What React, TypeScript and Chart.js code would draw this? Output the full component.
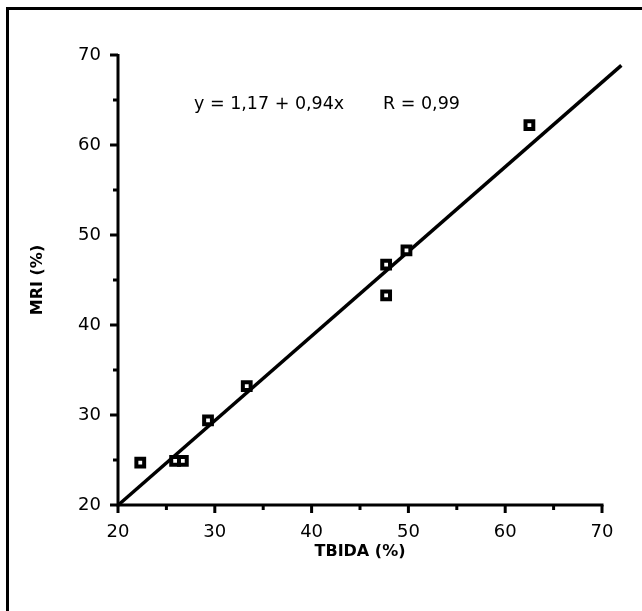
import React, { useEffect, useRef } from "react";
import { Chart, registerables } from "chart.js";

Chart.register(...registerables);

const tbida = [22.3, 25.9, 26.7, 29.3, 33.3, 47.7, 47.7, 49.8, 62.5];
const mri = [24.7, 24.9, 24.9, 29.4, 33.2, 46.7, 43.3, 48.3, 62.2];
const fitX = [20, 72];
const fitY = [19.97, 68.85];
const equationText = "y = 1,17 + 0,94x";
const rText = "R = 0,99";
const xTitle = "TBIDA (%)";
const yTitle = "MRI (%)";
const axisMin = 20;
const axisMax = 70;
const majorStep = 10;
const minorStep = 5;

const FONT = "'DejaVu Sans', sans-serif";

const axesPlugin = {
  id: "axesPlugin",
  afterDraw(chart: any) {
    const ctx = chart.ctx;
    const xs = chart.scales.x;
    const ys = chart.scales.y;
    const { left, right, top, bottom } = chart.chartArea;
    ctx.save();
    ctx.strokeStyle = "#000";
    ctx.lineWidth = 3;
    ctx.lineCap = "butt";
    ctx.beginPath();
    ctx.moveTo(left, top - 1);
    ctx.lineTo(left, bottom + 1.5);
    ctx.moveTo(left - 1.5, bottom);
    ctx.lineTo(right + 1.5, bottom);
    ctx.stroke();
    for (let v = axisMin; v <= axisMax; v += minorStep) {
      const major = v % majorStep === 0;
      const len = major ? 8 : 5;
      const px = xs.getPixelForValue(v);
      ctx.beginPath();
      ctx.moveTo(px, bottom);
      ctx.lineTo(px, bottom + len);
      ctx.stroke();
      const py = ys.getPixelForValue(v);
      ctx.beginPath();
      ctx.moveTo(left, py);
      ctx.lineTo(left - len, py);
      ctx.stroke();
    }
    ctx.fillStyle = "#000";
    ctx.font = `17.5px ${FONT}`;
    ctx.textAlign = "left";
    ctx.textBaseline = "middle";
    ctx.fillText(equationText, left + 76, top + 49);
    ctx.fillText(rText, left + 265, top + 49);
    ctx.restore();
  },
};

export default function App() {
  const ref = useRef<HTMLCanvasElement>(null);
  useEffect(() => {
    if (!ref.current) return;
    const chart = new Chart(ref.current, {
      type: "scatter",
      data: {
        datasets: [
          {
            type: "line",
            data: fitX.map((x, i) => ({ x, y: fitY[i] })),
            borderColor: "#000",
            borderWidth: 3.5,
            pointRadius: 0,
            clip: false as any,
            order: 2,
          },
          {
            data: tbida.map((x, i) => ({ x, y: mri[i] })),
            pointStyle: "rect",
            pointRadius: 5.5,
            borderWidth: 4,
            borderColor: "#000",
            backgroundColor: "#fff",
            order: 1,
          },
        ],
      },
      options: {
        responsive: false,
        animation: false,
        layout: { padding: { top: 55, right: 40, left: 0, bottom: 50 } },
        plugins: { legend: { display: false }, tooltip: { enabled: false } },
        scales: {
          x: {
            type: "linear",
            min: axisMin,
            max: axisMax,
            afterFit: (s: any) => {
              s.height = 56;
            },
            grid: { display: false, drawTicks: false },
            border: { display: false },
            ticks: {
              stepSize: majorStep,
              padding: 17,
              color: "#000",
              font: { family: FONT, size: 18 },
            },
            title: {
              display: true,
              text: xTitle,
              color: "#000",
              font: { family: FONT, size: 16, weight: "bold" },
              padding: { top: 0, bottom: 0 },
            },
          },
          y: {
            type: "linear",
            min: axisMin,
            max: axisMax,
            afterFit: (s: any) => {
              s.width = 118;
            },
            grid: { display: false, drawTicks: false },
            border: { display: false },
            ticks: {
              stepSize: majorStep,
              padding: 17,
              color: "#000",
              font: { family: FONT, size: 18 },
            },
            title: {
              display: true,
              text: yTitle,
              color: "#000",
              font: { family: FONT, size: 16, weight: "bold" },
              padding: { top: 28, bottom: 0 },
            },
          },
        },
      },
      plugins: [axesPlugin],
    });
    return () => chart.destroy();
  }, []);
  return (
    <div style={{ position: "fixed", left: 0, top: 0, width: 642, height: 611, background: "#fff" }}>
      <div
        style={{
          position: "absolute",
          left: 6,
          top: 7,
          right: 0,
          bottom: 0,
          borderTop: "3px solid #000",
          borderLeft: "3px solid #000",
        }}
      />
      <canvas ref={ref} width={642} height={611} style={{ position: "absolute", left: 0, top: 0 }} />
    </div>
  );
}
